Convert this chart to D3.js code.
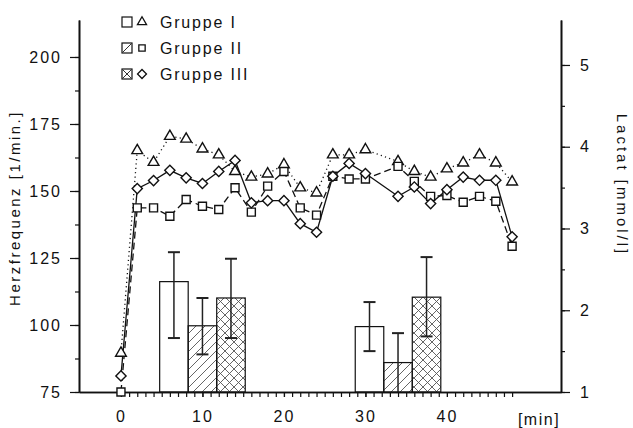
<!DOCTYPE html>
<html>
<head>
<meta charset="utf-8">
<script src="https://cdn.jsdelivr.net/npm/d3@7"></script>
<style>
  body { margin: 0; background: #fff; }
  text { font-family: "Liberation Sans", Arial, sans-serif; fill: #111; }
</style>
</head>
<body>
<div id="chart"></div>
<script>
// heart rate, every 2 min (no sample at 32 min)
const HR_TIME = [0, 2, 4, 6, 8, 10, 12, 14, 16, 18, 20, 22, 24, 26, 28, 30, 34, 36, 38, 40, 42, 44, 46, 48];
const HR_GROUP1 = [89.5, 165.1, 160.7, 170.4, 169.4, 165.7, 163.5, 157.3, 155.2, 156.4, 159.8, 151.2, 149.3, 163.5, 163.5, 165.4, 161.0, 157.3, 155.2, 158.3, 160.5, 163.5, 160.5, 153.4];
const HR_GROUP2 = [75, 143.7, 143.7, 140.6, 146.8, 144.3, 143.1, 151.2, 142.1, 151.8, 157.3, 143.7, 141.0, 155.5, 154.5, 154.5, 159.2, 153.6, 148.0, 148.3, 145.8, 148.0, 146.2, 129.4];
const HR_GROUP3 = [81, 150.9, 153.9, 157.7, 154.9, 152.8, 157.3, 161.4, 145.6, 146.4, 146.4, 137.8, 134.6, 155.5, 160.3, 156.5, 148.0, 151.5, 145.3, 150.5, 155.2, 154.0, 154.0, 132.9];

// lactate, two measurements (minute = centre of the bar block)
const LAC_TIME = [10, 34];
const LAC_MEAN = [[2.35, 1.80], [1.81, 1.36], [2.15, 2.16]];
const LAC_LOW = [[1.66, 1.50], [1.46, 1.0], [1.66, 1.68]];
const LAC_HIGH = [[2.71, 2.10], [2.15, 1.72], [2.63, 2.65]];

const GROUPS = ["Gruppe I", "Gruppe II", "Gruppe III"];
const HR_TICKS = [75, 100, 125, 150, 175, 200];
const LAC_TICKS = [1, 2, 3, 4, 5];
const TIME_TICKS = [0, 10, 20, 30, 40];

var width = 633, height = 428;

var x = d3.scaleLinear().domain([-5.15, 54]).range([79, 561]);
var yHr = d3.scaleLinear().domain([75, 213.8]).range([392, 20]);
var yLac = d3.scaleLinear().domain([1, 5.55]).range([392, 20]);

var svg = d3.select("#chart")
  .append("svg")
  .attr("width", width)
  .attr("height", height)
  .style("background", "#fff");

var defs = svg.append("defs");
defs.append("pattern")
  .attr("id", "hatch")
  .attr("patternUnits", "userSpaceOnUse")
  .attr("width", 9).attr("height", 9)
  .append("path")
  .attr("d", "M0,9L9,0M-2,2L2,-2M7,11L11,7")
  .attr("stroke", "#555").attr("stroke-width", 0.9);
defs.append("pattern")
  .attr("id", "cross")
  .attr("patternUnits", "userSpaceOnUse")
  .attr("width", 9).attr("height", 9)
  .append("path")
  .attr("d", "M0,9L9,0M-2,2L2,-2M7,11L11,7M0,0L9,9M-2,7L2,11M7,-2L11,2")
  .attr("stroke", "#555").attr("stroke-width", 0.9);

var fills = ["#fff", "url(#hatch)", "url(#cross)"];
var offsets = [-3.5, 0, 3.5];
var barW = 3.5;

// bars with error bars
GROUPS.forEach(function (g, gi) {
  LAC_TIME.forEach(function (t, i) {
    var cx = t + offsets[gi];
    svg.append("rect")
      .attr("x", x(cx - barW / 2))
      .attr("width", x(cx + barW / 2) - x(cx - barW / 2))
      .attr("y", yLac(LAC_MEAN[gi][i]))
      .attr("height", yLac(1) - yLac(LAC_MEAN[gi][i]))
      .attr("fill", fills[gi])
      .attr("stroke", "#111")
      .attr("stroke-width", 1.2);
  });
});
GROUPS.forEach(function (g, gi) {
  LAC_TIME.forEach(function (t, i) {
    var px = x(t + offsets[gi]);
    var eb = svg.append("g").attr("stroke", "#222").attr("stroke-width", 1.5);
    eb.append("line")
      .attr("x1", px).attr("x2", px)
      .attr("y1", yLac(LAC_HIGH[gi][i])).attr("y2", yLac(LAC_LOW[gi][i]));
    [LAC_HIGH[gi][i], LAC_LOW[gi][i]].forEach(function (v) {
      if (v <= 1) return;
      eb.append("line")
        .attr("x1", px - 6).attr("x2", px + 6)
        .attr("y1", yLac(v)).attr("y2", yLac(v))
        .attr("stroke-width", 2);
    });
  });
});

// axes
var fontSize = "16px";
var axisLeftMinor = d3.axisLeft(yHr).tickValues(d3.range(75, 201, 12.5)).tickSize(4).tickFormat("").tickSizeOuter(0);
svg.append("g").attr("transform", "translate(79,0)").call(axisLeftMinor);
var axisLeftMajor = d3.axisLeft(yHr).tickValues(HR_TICKS).tickSize(9).tickPadding(8).tickSizeOuter(0);
svg.append("g").attr("transform", "translate(79,0)").call(axisLeftMajor);

var axisRightMinor = d3.axisRight(yLac).tickValues(d3.range(1, 5.01, 0.5)).tickSize(4).tickFormat("").tickSizeOuter(0);
svg.append("g").attr("transform", "translate(561,0)").call(axisRightMinor);
var axisRightMajor = d3.axisRight(yLac).tickValues(LAC_TICKS).tickFormat(d3.format("d"))
  .tickSize(9).tickPadding(10).tickSizeOuter(0);
svg.append("g").attr("transform", "translate(561,0)").call(axisRightMajor);

var axisBottomMinor = d3.axisBottom(x).tickValues(d3.range(0, 49, 1)).tickSize(5).tickFormat("").tickSizeOuter(0);
svg.append("g").attr("transform", "translate(0,392)").call(axisBottomMinor);
var axisBottomMajor = d3.axisBottom(x).tickValues(TIME_TICKS).tickSize(5).tickPadding(14).tickSizeOuter(0);
svg.append("g").attr("transform", "translate(0,392)").call(axisBottomMajor);

svg.selectAll(".domain").attr("stroke", "#111").attr("stroke-width", 1.6);
svg.selectAll(".tick line").attr("stroke", "#111").attr("stroke-width", 1.2);
svg.selectAll(".tick text")
  .style("font-size", fontSize)
  .style("letter-spacing", "2px")
  .style("font-family", "'Liberation Sans', Arial, sans-serif")
  .attr("fill", "#111");

svg.append("text")
  .attr("x", 539).attr("y", 425)
  .attr("text-anchor", "middle")
  .style("font-size", fontSize)
  .style("letter-spacing", "1.5px")
  .text("[min]");

svg.append("text")
  .attr("transform", "translate(20,208) rotate(-90)")
  .attr("text-anchor", "middle")
  .style("font-size", "15px")
  .style("letter-spacing", "2.5px")
  .text("Herzfrequenz [1/min.]");

svg.append("text")
  .attr("transform", "translate(617,185) rotate(90)")
  .attr("text-anchor", "middle")
  .style("font-size", "15px")
  .style("letter-spacing", "3px")
  .text("Lactat [mmol/l]");

// heart rate lines
var series = [HR_GROUP1, HR_GROUP2, HR_GROUP3];
var dashes = ["1.2,3.2", "7,4", null];
var symbols = [
  d3.symbol().type(d3.symbolTriangle).size(50),
  d3.symbol().type(d3.symbolSquare).size(64),
  d3.symbol().type(d3.symbolSquare).size(52)
];
var line = d3.line()
  .x(function (d) { return x(d[0]); })
  .y(function (d) { return yHr(d[1]); });

series.forEach(function (vals, si) {
  var pts = HR_TIME.map(function (t, i) { return [t, vals[i]]; });
  svg.append("path")
    .datum(pts)
    .attr("d", line)
    .attr("fill", "none")
    .attr("stroke", "#111")
    .attr("stroke-width", 1.3)
    .attr("stroke-dasharray", dashes[si]);
});
series.forEach(function (vals, si) {
  svg.selectAll(".m" + si)
    .data(HR_TIME.map(function (t, i) { return [t, vals[i]]; }))
    .enter()
    .append("path")
    .attr("class", "m" + si)
    .attr("d", symbols[si])
    .attr("transform", function (d) {
      return "translate(" + x(d[0]) + "," + yHr(d[1]) + ")" + (si == 2 ? " rotate(45)" : "");
    })
    .attr("fill", "#fff")
    .attr("stroke", "#111")
    .attr("stroke-width", 1.4);
});

// legend
var legend = svg.append("g").attr("transform", "translate(122,0)");
var rowY = [22, 48, 74];
GROUPS.forEach(function (g, i) {
  var row = legend.append("g").attr("transform", "translate(0," + rowY[i] + ")");
  row.append("rect")
    .attr("x", 0).attr("y", -5).attr("width", 10).attr("height", 10)
    .attr("fill", "#fff").attr("stroke", "#111").attr("stroke-width", 1.2);
  if (i >= 1) {
    row.append("line").attr("x1", 0).attr("y1", 5).attr("x2", 10).attr("y2", -5)
      .attr("stroke", "#333").attr("stroke-width", 1);
  }
  if (i == 2) {
    row.append("line").attr("x1", 0).attr("y1", -5).attr("x2", 10).attr("y2", 5)
      .attr("stroke", "#333").attr("stroke-width", 1);
  }
  row.append("path")
    .attr("d", d3.symbol().type(i == 0 ? d3.symbolTriangle : d3.symbolSquare).size(i == 0 ? 36 : 40))
    .attr("transform", "translate(20,0)" + (i == 2 ? " rotate(45)" : ""))
    .attr("fill", "#fff").attr("stroke", "#111").attr("stroke-width", 1.3);
  row.append("text")
    .attr("x", 38).attr("y", 6)
    .style("font-size", fontSize)
    .style("letter-spacing", "1.8px")
    .text(g);
});
</script>
</body>
</html>
